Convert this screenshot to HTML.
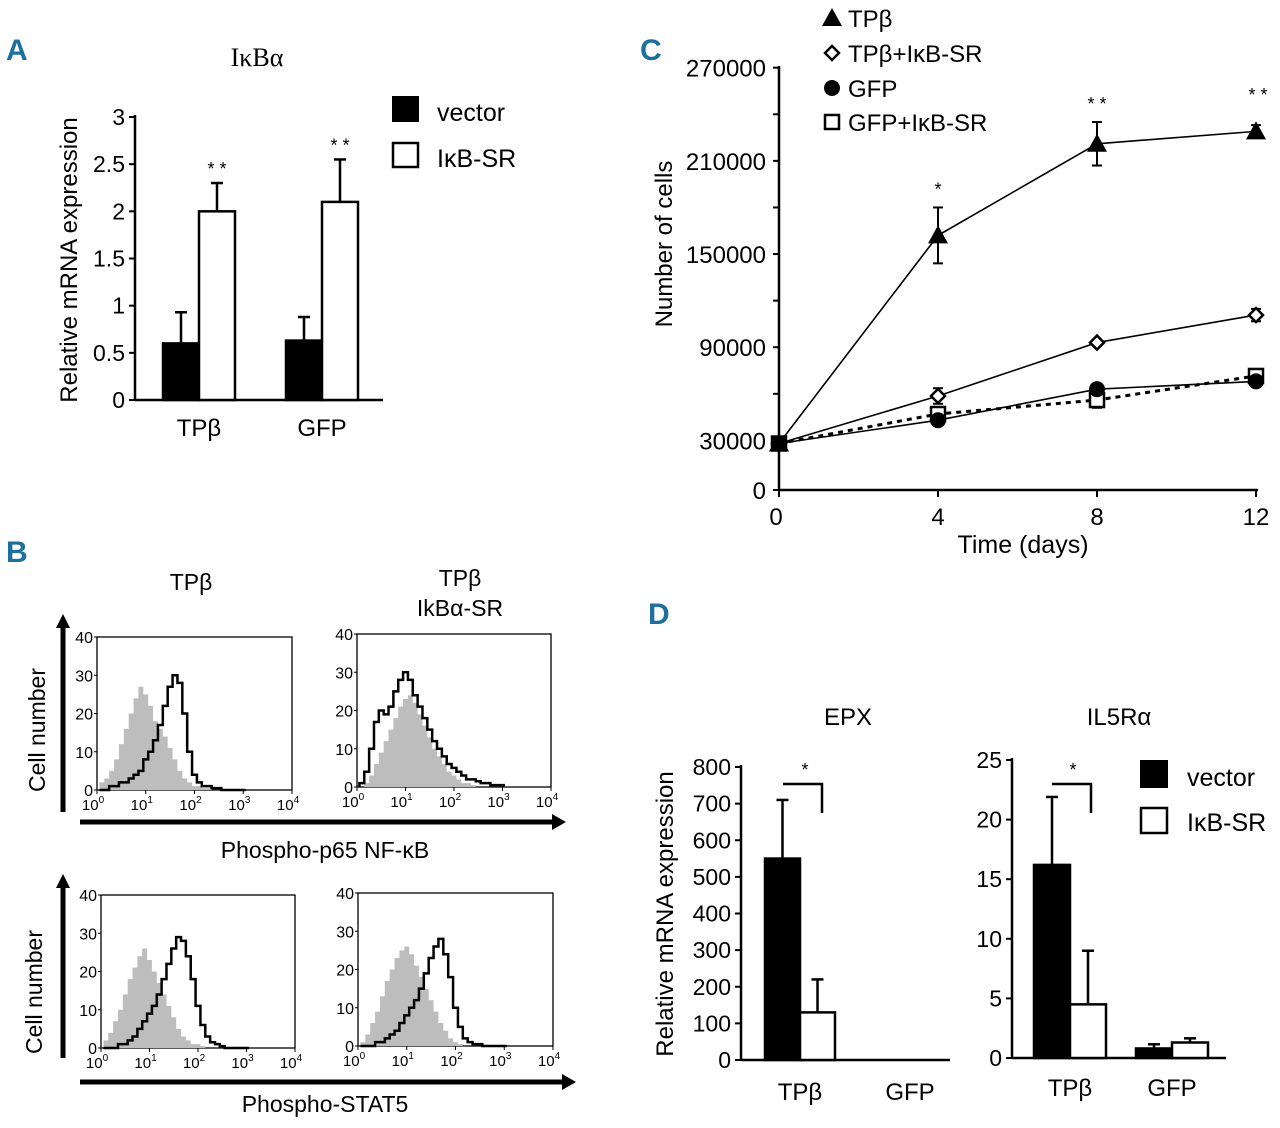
<!DOCTYPE html>
<html><head><meta charset="utf-8"><style>
html,body{margin:0;padding:0;background:#fff;}
svg{display:block;font-family:"Liberation Sans Narrow","Liberation Sans",sans-serif;}
</style></head><body>
<svg id="fig" width="1280" height="1128" viewBox="0 0 1280 1128" xmlns="http://www.w3.org/2000/svg">
<g font-family="Liberation Sans Narrow, Liberation Sans, sans-serif" font-weight="bold" fill="#1d6f9e" font-size="30">
<text x="6" y="60">A</text>
<text x="6" y="562">B</text>
<text x="640" y="60">C</text>
<text x="648" y="624">D</text>
</g>
<g id="gA"></g>
<g id="gB"></g>
<g id="gC"></g>
<g id="gD"></g>
</svg>
<script>
// ---- Panel A data
const aCategories = ["TPβ","GFP"];
const aVector = [0.6, 0.63];
const aVectorErr = [0.33, 0.25];
const aSR = [2.0, 2.1];
const aSRErr = [0.3, 0.45];
const aTicks = [0,0.5,1,1.5,2,2.5,3];
const aTickLabels = ["0","0.5","1","1.5","2","2.5","3"];
// ---- Panel C data
const cDays = [0,4,8,12];
const cTP = [28000,162000,221000,229000];
const cTPErr = [2000,18000,14000,4000];
const cTPSR = [28000,58600,93000,110700];
const cTPSRErr = [2000,5000,2000,4000];
const cGFP = [28000,43000,63000,68000];
const cGFPErr = [2000,3000,2000,2000];
const cGFPSR = [28000,47000,56000,71500];
const cGFPSRErr = [2000,2000,5000,2000];
const cYTicks = [0,30000,90000,150000,210000,270000];
const cYMinor = [60000,120000,180000,240000];
// ---- Panel D data
const dCategories = ["TPβ","GFP"];
const epxVector = [550, 0];
const epxVectorErr = [160, 0];
const epxSR = [130, 0];
const epxSRErr = [90, 0];
const epxTicks = [0,100,200,300,400,500,600,700,800];
const ilVector = [16.2, 0.8];
const ilVectorErr = [5.7, 0.35];
const ilSR = [4.5, 1.3];
const ilSRErr = [4.5, 0.35];
const ilTicks = [0,5,10,15,20,25];
// ---- Panel B histogram data (counts at log10 = 0.1..3.0 step 0.1)
const hTLgray = [2,3,5,8,12,16,20,24,27,25,22,18,16,14,11,8,5,3,2,1,1,0.5,0.5,0,0,0,0,0,0,0];
const hTLblack= [0,0,1,1,2,2,3,4,5,8,10,13,17,22,27,30,28,20,10,4,2,1,1,0.5,0.5,0,0,0,0,0];
const hTRgray = [0,1,3,6,9,12,15,18,21,23,24,22,19,16,13,10,8,6,4,3,2,1,1,0.5,0,0,0,0,0,0];
const hTRblack= [1,4,10,17,20,19,21,25,28,30,28,24,21,18,15,12,10,8,6,5,4,3,2,2,1.5,1,1,0.5,0.5,0.5];
const hBLgray = [2,4,7,10,14,18,21,24,26,23,20,17,14,11,8,5,3,2,1,1,0.5,0,0,0,0,0,0,0,0,0];
const hBLblack= [0,0,0,1,1,2,3,5,7,9,11,14,18,22,26,29,28,24,18,11,6,3,1.5,1,0.5,0,0,0,0,0];
const hBRgray = [1,3,6,9,13,17,20,23,25,26,24,21,18,15,12,9,6,4,2,1,0.5,0,0,0,0,0,0,0,0,0];
const hBRblack= [0,0,0,1,1,2,3,4,6,8,10,12,15,19,23,26,28,24,18,10,5,2,1,0.5,0.5,0,0,0,0,0];

const NS="http://www.w3.org/2000/svg";
function mk(parent,tag,attrs,text){const e=document.createElementNS(NS,tag);for(const k in attrs)e.setAttribute(k,attrs[k]);if(text!==undefined)e.textContent=text;parent.appendChild(e);return e;}
const FS='"Liberation Sans Narrow","Liberation Sans",sans-serif';

// ---------- bar chart helper
function barChart(g, o){
  const y=v=>o.y0-(v-o.vmin)/(o.vmax-o.vmin)*(o.y0-o.y1);
  let ax=mk(g,'line',{x1:o.ax,y1:o.y0,x2:o.ax,y2:o.y1-2,stroke:'#000','stroke-width':2.5});
  
  let bx=mk(g,'line',{x1:o.ax,y1:o.y0,x2:o.xend,y2:o.y0,stroke:'#000','stroke-width':2.5});
  
  o.ticks.forEach((t,i)=>{
    mk(g,'line',{x1:o.ax-6,y1:y(t),x2:o.ax,y2:y(t),stroke:'#000','stroke-width':2});
    let tl=mk(g,'text',{x:o.ax-10,y:y(t)+8,'text-anchor':'end','font-size':23,'font-family':FS},o.labels?o.labels[i]:String(t));
    
  });
  o.cats.forEach((c,i)=>{
    const gx=o.gx[i];
    const series=[[o.v1[i],o.e1[i],'#000'],[o.v2[i],o.e2[i],'#fff']];
    series.forEach((s,j)=>{
      const x=gx+j*o.bw, top=y(s[0]);
      if(s[0]>0){
        const ex=x+o.bw/2+(j==0?0:0);
        const el=mk(g,'line',{x1:x+o.bw/2,y1:top,x2:x+o.bw/2,y2:y(s[0]+s[1]),stroke:'#000','stroke-width':2.5});
        
        mk(g,'line',{x1:x+o.bw/2-6,y1:y(s[0]+s[1]),x2:x+o.bw/2+6,y2:y(s[0]+s[1]),stroke:'#000','stroke-width':2.5});
        const r=mk(g,'rect',{x:x,y:top,width:o.bw,height:o.y0-top,fill:s[2],stroke:'#000','stroke-width':2.5});
        
      }
    });
    const lab=mk(g,'text',{x:gx+o.bw,y:o.y0+o.labOff,'text-anchor':'middle','font-size':24,'font-family':FS},c);
    
  });
  return y;
}

// ---------- Panel A
(function(){
  const g=document.getElementById('gA');
  const y=barChart(g,{name:'a',ax:135,y0:400,y1:117,vmin:0,vmax:3,xend:383,ticks:aTicks,labels:aTickLabels,cats:aCategories,gx:[163,286],bw:36,v1:aVector,e1:aVectorErr,v2:aSR,e2:aSRErr,labOff:36});
  aCategories.forEach((c,i)=>{const x=[163,286][i]+54;let s=mk(g,'text',{x:x,y:y(aSR[i]+aSRErr[i])-8,'text-anchor':'middle','font-size':18,'font-family':FS},'* *');});
  let t=mk(g,'text',{x:257,y:66,'text-anchor':'middle','font-size':26,'font-family':'"Liberation Serif",serif'},'IκBα');
  let yt=mk(g,'text',{transform:'translate(77,260) rotate(-90)','text-anchor':'middle','font-size':24,'font-family':FS},'Relative mRNA expression');
  let l1=mk(g,'rect',{x:392,y:96,width:27,height:26,fill:'#000'});
  let l2=mk(g,'rect',{x:393,y:143,width:25,height:24,fill:'#fff',stroke:'#000','stroke-width':2.5});
  let t1=mk(g,'text',{x:437,y:121,'font-size':25,'font-family':FS},'vector');
  let t2=mk(g,'text',{x:437,y:167,'font-size':25,'font-family':FS},'IκB-SR');
})();

// ---------- Panel C
(function(){
  const g=document.getElementById('gC');
  const X=d=>779+d/12*(1256-779);
  const Y=v=>487-v*0.001553;
  let ax=mk(g,'line',{x1:779,y1:490,x2:779,y2:66,stroke:'#000','stroke-width':2.5});
  let bx=mk(g,'line',{x1:779,y1:490,x2:1258,y2:490,stroke:'#000','stroke-width':2.5});
  cYTicks.forEach(t=>{const yy=t==0?490:Y(t);mk(g,'line',{x1:773,y1:yy,x2:779,y2:yy,stroke:'#000','stroke-width':2});
    let l=mk(g,'text',{x:766,y:yy+9,'text-anchor':'end','font-size':24,'font-family':FS},String(t));});
  cYMinor.forEach(t=>mk(g,'line',{x1:773,y1:Y(t),x2:779,y2:Y(t),stroke:'#000','stroke-width':2}));
  cDays.forEach(d=>{mk(g,'line',{x1:X(d),y1:490,x2:X(d),y2:497,stroke:'#000','stroke-width':2});
    let l=mk(g,'text',{x:X(d)-(d==0?3:0),y:525,'text-anchor':'middle','font-size':24,'font-family':FS},String(d));});
  let xt=mk(g,'text',{x:1023,y:553,'text-anchor':'middle','font-size':25,'font-family':FS},'Time (days)');
  let yt=mk(g,'text',{transform:'translate(672,244) rotate(-90)','text-anchor':'middle','font-size':24,'font-family':FS},'Number of cells');
  function series(vals,errs,name,marker,dash){
    const pts=cDays.map((d,i)=>X(d)+','+Y(vals[i])).join(' ');
    const pl=mk(g,'polyline',{points:pts,fill:'none',stroke:'#000','stroke-width':dash?3:1.6,'stroke-dasharray':dash?'5,5':'none'});
    
    cDays.forEach((d,i)=>{
      if(i>0){mk(g,'line',{x1:X(d),y1:Y(vals[i]-errs[i]),x2:X(d),y2:Y(vals[i]+errs[i]),stroke:'#000','stroke-width':2});
        mk(g,'line',{x1:X(d)-5,y1:Y(vals[i]+errs[i]),x2:X(d)+5,y2:Y(vals[i]+errs[i]),stroke:'#000','stroke-width':2});
        mk(g,'line',{x1:X(d)-5,y1:Y(vals[i]-errs[i]),x2:X(d)+5,y2:Y(vals[i]-errs[i]),stroke:'#000','stroke-width':2});}
      const m=marker(X(d),Y(vals[i]));
    });
  }
  const tri=(x,y)=>mk(g,'polygon',{points:`${x},${y-10} ${x-10},${y+8} ${x+10},${y+8}`,fill:'#000'});
  const dia=(x,y)=>mk(g,'polygon',{points:`${x},${y-7} ${x+7},${y} ${x},${y+7} ${x-7},${y}`,fill:'#fff',stroke:'#000','stroke-width':2.5});
  const cir=(x,y)=>mk(g,'circle',{cx:x,cy:y,r:8,fill:'#000'});
  const sq=(x,y)=>mk(g,'rect',{x:x-7,y:y-7,width:14,height:14,fill:'#fff',stroke:'#000','stroke-width':2.5});
  series(cGFPSR,cGFPSRErr,'gfp-ikb-sr',sq,true);
  series(cGFP,cGFPErr,'gfp',cir,false);
  series(cTPSR,cTPSRErr,'tpb-ikb-sr',dia,false);
  series(cTP,cTPErr,'tpb',tri,false);
  [['*',4],['* *',8],['* *',12]].forEach(([s,d],i)=>{let v=cTP[cDays.indexOf(d)]+cTPErr[cDays.indexOf(d)];
    let t=mk(g,'text',{x:X(d)+(d==12?2:0),y:Y(v)-(d==12?24:12),'text-anchor':'middle','font-size':18,'font-family':FS},s);});
  // legend
  const ly=[18,53,88,122], names=['TPβ','TPβ+IκB-SR','GFP','GFP+IκB-SR'], mks=[tri,dia,cir,sq];
  names.forEach((n,i)=>{const m=mks[i](832,ly[i]);
    let t=mk(g,'text',{x:848,y:ly[i]+9,'font-size':24,'font-family':FS},n);});
})();

// ---------- Panel D
(function(){
  const g=document.getElementById('gD');
  const y1=barChart(g,{name:'d-epx',ax:741,y0:1060,y1:767,vmin:0,vmax:800,xend:950,ticks:epxTicks,cats:dCategories,gx:[765,875],bw:35,v1:epxVector,e1:epxVectorErr,v2:epxSR,e2:epxSRErr,labOff:40});
  const y2=barChart(g,{name:'d-il5ra',ax:1012,y0:1058,y1:760,vmin:0,vmax:25,xend:1226,ticks:ilTicks,cats:dCategories,gx:[1034,1136],bw:36,v1:ilVector,e1:ilVectorErr,v2:ilSR,e2:ilSRErr,labOff:38});
  let b1=mk(g,'polyline',{points:'783,784 822,784 822,813',fill:'none',stroke:'#000','stroke-width':2.5});
  let b2=mk(g,'polyline',{points:'1052,784 1091,784 1091,813',fill:'none',stroke:'#000','stroke-width':2.5});
  [[805],[1073]].forEach(([x])=>{let t=mk(g,'text',{x:x,y:776,'text-anchor':'middle','font-size':18,'font-family':FS},'*');});
  let t1=mk(g,'text',{x:848,y:725,'text-anchor':'middle','font-size':24,'font-family':FS},'EPX');
  let t2=mk(g,'text',{x:1119,y:725,'text-anchor':'middle','font-size':24,'font-family':FS},'IL5Rα');
  let yt=mk(g,'text',{transform:'translate(673,914) rotate(-90)','text-anchor':'middle','font-size':24,'font-family':FS},'Relative mRNA expression');
  let l1=mk(g,'rect',{x:1140,y:760,width:28,height:28,fill:'#000'});
  let l2=mk(g,'rect',{x:1141,y:808,width:26,height:25,fill:'#fff',stroke:'#000','stroke-width':2.5});
  let a=mk(g,'text',{x:1187,y:786,'font-size':25,'font-family':FS},'vector');
  let b=mk(g,'text',{x:1187,y:831,'font-size':25,'font-family':FS},'IκB-SR');
})();

// ---------- Panel B
(function(){
  const g=document.getElementById('gB');
  function hist(x0,y0,x1,y1,gray,black,name){
    const X=l=>x0+l/4*(x1-x0), Y=c=>y1-c/40*(y1-y0);
    const box=mk(g,'rect',{x:x0,y:y0,width:x1-x0,height:y1-y0,fill:'#fff',stroke:'#000','stroke-width':1.3});
    
    let dg=`M${X(0.05)},${Y(0)}`, db=`M${X(0.05)},${Y(0)}`;
    gray.forEach((c,i)=>{dg+=` L${X(0.05+i*0.1)},${Y(c)} L${X(0.15+i*0.1)},${Y(c)}`;});
    dg+=` L${X(3.05)},${Y(0)} Z`;
    black.forEach((c,i)=>{db+=` L${X(0.05+i*0.1)},${Y(c)} L${X(0.15+i*0.1)},${Y(c)}`;});
    const pg=mk(g,'path',{d:dg,fill:'#bdbdbd',stroke:'none'});
    const pb=mk(g,'path',{d:db,fill:'none',stroke:'#000','stroke-width':2.5});
    [0,10,20,30,40].forEach(t=>{let l=mk(g,'text',{x:x0-4,y:Y(t)+6,'text-anchor':'end','font-size':16,'font-family':FS},String(t));
      mk(g,'line',{x1:x0-3,y1:Y(t),x2:x0,y2:Y(t),stroke:'#000','stroke-width':1});});
    [0,1,2,3,4].forEach(p=>{const t=mk(g,'text',{x:X(p)-4,y:y1+20,'text-anchor':'middle','font-size':15,'font-family':FS});
      mk(t,'tspan',{},'10');mk(t,'tspan',{dy:-7,'font-size':10},String(p));
      mk(g,'line',{x1:X(p),y1:y1,x2:X(p),y2:y1+4,stroke:'#000','stroke-width':1});});
  }
  hist(97,637,292,790,hTLgray,hTLblack,'b-p65-tpb');
  hist(357,634,551,787,hTRgray,hTRblack,'b-p65-tpb-ikb');
  hist(101,895,295,1048,hBLgray,hBLblack,'b-stat5-tpb');
  hist(358,893,553,1046,hBRgray,hBRblack,'b-stat5-tpb-ikb');
  function arrowV(x,yb,yt,name){const l=mk(g,'line',{x1:x,y1:yb,x2:x,y2:yt+12,stroke:'#000','stroke-width':5});
    mk(g,'polygon',{points:`${x-7},${yt+14} ${x+7},${yt+14} ${x},${yt}`,fill:'#000'});}
  function arrowH(y,xl,xr,name){const l=mk(g,'line',{x1:xl,y1:y,x2:xr-12,y2:y,stroke:'#000','stroke-width':5});
    mk(g,'polygon',{points:`${xr-14},${y-8} ${xr-14},${y+8} ${xr},${y}`,fill:'#000'});}
  arrowV(63,812,614,'b-top-y-arrow');arrowH(822,80,566,'b-top-x-arrow');
  arrowV(63,1058,874,'b-bottom-y-arrow');arrowH(1082,80,576,'b-bottom-x-arrow');
  const txt=(x,y,s,n,rot)=>{let t=mk(g,'text',rot?{transform:`translate(${x},${y}) rotate(-90)`,'text-anchor':'middle','font-size':23,'font-family':FS}:{x:x,y:y,'text-anchor':'middle','font-size':23,'font-family':FS},s);};
  txt(191,590,'TPβ','b-col-title-tpb');
  txt(460,586,'TPβ','b-col-title-tpb-ikb');
  txt(460,616,'IkBα-SR','b-col-title-ikb-sr');
  txt(325,858,'Phospho-p65 NF-κB','b-top-x-title');
  txt(325,1112,'Phospho-STAT5','b-bottom-x-title');
  txt(45,730,'Cell number','b-top-y-title',true);
  txt(42,992,'Cell number','b-bottom-y-title',true);
})();
</script>
</body></html>
